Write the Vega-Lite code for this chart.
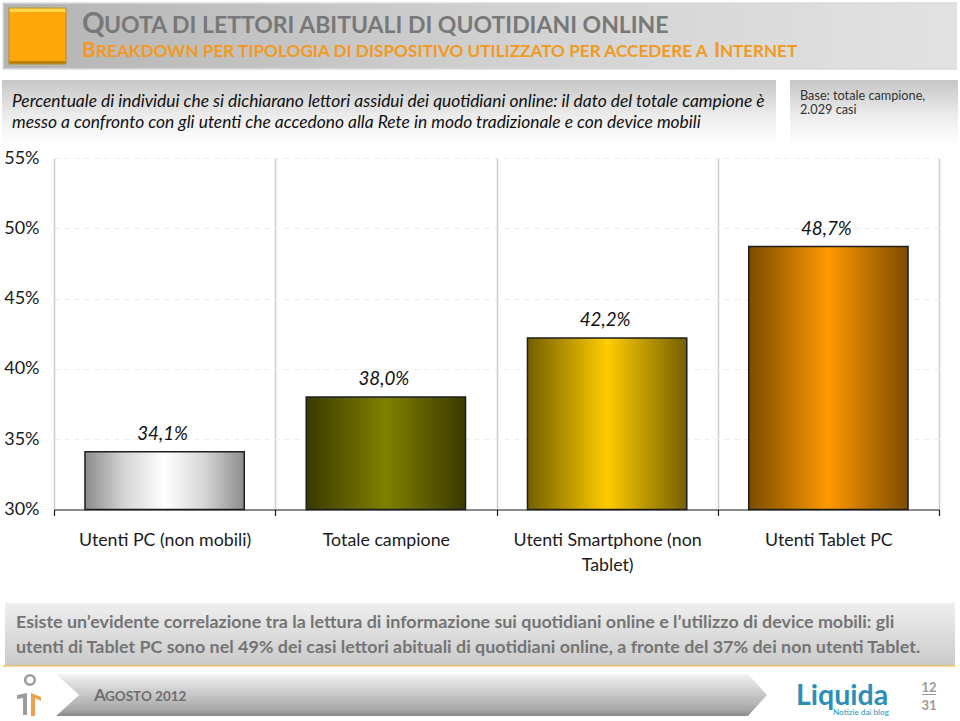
{
"$schema":"https://vega.github.io/schema/vega-lite/v6.json",
"autosize":{"type":"none"},
"width":885,"height":351.5,
"padding":{"left":54,"top":158,"right":21,"bottom":211.5},
"background":"white",
"config":{"view":{"stroke":null},"font":"Lato"},
"data":{"values":[
{"gruppo":"Utenti PC (non mobili)","quota":34.1,"etichetta":"34,1%"},
{"gruppo":"Totale campione","quota":38.0,"etichetta":"38,0%"},
{"gruppo":"Utenti Smartphone (non Tablet)","quota":42.2,"etichetta":"42,2%"},
{"gruppo":"Utenti Tablet PC","quota":48.7,"etichetta":"48,7%"}
]},
"encoding":{
"x":{"field":"gruppo","type":"nominal","title":null,
"scale":{"domain":["Utenti PC (non mobili)","Totale campione","Utenti Smartphone (non Tablet)","Utenti Tablet PC"],"paddingInner":0,"paddingOuter":0},
"axis":{"tickBand":"extent","grid":true,"gridColor":"#cccccc","gridWidth":1.5,"domainColor":"#1a1a1a","domainWidth":1.2,"tickColor":"#1a1a1a","tickWidth":1.2,"tickSize":6,"labelAngle":0,"labelAlign":"center","labelBaseline":"top","labelPadding":16,"labelFontSize":17.8,"labelColor":"#1a1a1a","labelFont":"Lato","labelLimit":220,"labelLineHeight":25,
"labelExpr":"datum.label == 'Utenti Smartphone (non Tablet)' ? ['Utenti Smartphone (non','Tablet)'] : datum.label"}},
"y":{"field":"quota","type":"quantitative","title":null,
"scale":{"domain":[30,55],"nice":false,"zero":false},
"axis":{"values":[30,35,40,45,50,55],"domain":false,"ticks":false,"labelPadding":15,"labelFontSize":18,"labelColor":"#1a1a1a","labelExpr":"datum.value + '%'","grid":true,"gridColor":"#ececec","gridDash":[5,5],"gridWidth":1}}
},
"layer":[
{"data":{"values":[{}]},"mark":{"type":"rect","x":-51,"x2":902,"y":-155,"y2":-89,"stroke":"#dcdcdc","strokeWidth":1.5,"fill":{"gradient":"linear","x1":0,"y1":0,"x2":1,"y2":0,"stops":[{"offset":0,"color":"#b4b4b4"},{"offset":0.55,"color":"#d2d2d2"},{"offset":1,"color":"#e2e2e2"}]}},"encoding":{"x":null,"y":null}},
{"data":{"values":[{}]},"mark":{"type":"rect","x":-45,"x2":12,"y":-150,"y2":-94,"stroke":"#b98a20","strokeWidth":1,"fill":{"gradient":"linear","x1":0,"y1":0,"x2":0,"y2":1,"stops":[{"offset":0,"color":"#ffd84a"},{"offset":0.07,"color":"#ffd84a"},{"offset":0.08,"color":"#ffa608"},{"offset":0.94,"color":"#ffa608"},{"offset":0.95,"color":"#b87f10"},{"offset":1,"color":"#b87f10"}]}},"encoding":{"x":null,"y":null}},
{"data":{"values":[{}]},"mark":{"type":"rect","x":-52,"x2":722,"y":-78,"y2":-13,"fill":{"gradient":"linear","x1":0,"y1":0,"x2":0,"y2":1,"stops":[{"offset":0,"color":"#c6c6c6"},{"offset":0.55,"color":"#ececec"},{"offset":1,"color":"#ffffff"}]}},"encoding":{"x":null,"y":null}},
{"data":{"values":[{}]},"mark":{"type":"rect","x":736,"x2":904,"y":-78,"y2":-13,"fill":{"gradient":"linear","x1":0,"y1":0,"x2":0,"y2":1,"stops":[{"offset":0,"color":"#c6c6c6"},{"offset":0.55,"color":"#ececec"},{"offset":1,"color":"#ffffff"}]}},"encoding":{"x":null,"y":null}},
{"data":{"values":[{}]},"mark":{"type":"rect","x":-49,"x2":901,"y":445,"y2":507,"fill":{"gradient":"linear","x1":0,"y1":0,"x2":0,"y2":1,"stops":[{"offset":0,"color":"#efefef"},{"offset":1,"color":"#cacaca"}]}},"encoding":{"x":null,"y":null}},
{"data":{"values":[{}]},"mark":{"type":"rect","x":-51,"x2":901,"y":507,"y2":508.5,"fill":"#f0bb6a"},"encoding":{"x":null,"y":null}},
{"data":{"values":[{}]},"mark":{"type":"point","x":357.5,"y":537,"size":505400,"filled":true,"opacity":1,"shape":"M-1,-0.059L0.9465,-0.059L1,0L0.9465,0.059L-1,0.059L-0.935,0Z","fill":{"gradient":"linear","x1":0,"y1":0,"x2":0,"y2":1,"stops":[{"offset":0,"color":"#f4f4f4"},{"offset":0.15,"color":"#e4e4e4"},{"offset":0.85,"color":"#a8a8a8"},{"offset":1,"color":"#8a8a8a"}]}},"encoding":{"x":null,"y":null}},
{"data":{"values":[{}]},"mark":{"type":"point","x":-24,"y":522,"size":95,"shape":"circle","filled":false,"opacity":1,"stroke":"#9c9c9c","strokeWidth":2.5},"encoding":{"x":null,"y":null}},
{"data":{"values":[{}]},"mark":{"type":"point","x":-25,"y":546,"size":676,"filled":true,"opacity":1,"fill":"#9c9c9c","shape":"M-.92,-.69L-.15,-.85L-.15,.85L-.46,.85L-.46,-.46L-.92,-.38Z"},"encoding":{"x":null,"y":null}},
{"data":{"values":[{}]},"mark":{"type":"point","x":-25,"y":546,"size":676,"filled":true,"opacity":1,"fill":"#f0a04a","shape":"M.15,-.85L.92,-.54L.92,-.23L.46,-.46L.46,.92L.15,.92Z"},"encoding":{"x":null,"y":null}},
{"data":{"values":[{"t":"Q"}]},"mark":{"type":"text","x":28,"y":-125,"align":"left","baseline":"alphabetic","fontSize":28,"fontWeight":"bold","fill":"#787878"},"encoding":{"x":null,"y":null,"text":{"field":"t"}}},
{"data":{"values":[{"t":"UOTA DI LETTORI ABITUALI DI QUOTIDIANI ONLINE"}]},"mark":{"type":"text","x":50,"y":-125,"align":"left","baseline":"alphabetic","fontSize":23,"fontWeight":"bold","fill":"#787878"},"encoding":{"x":null,"y":null,"text":{"field":"t"}}},
{"data":{"values":[{"t":"B"}]},"mark":{"type":"text","x":28,"y":-101,"align":"left","baseline":"alphabetic","fontSize":21,"fontWeight":"bold","fill":"#f39a1e"},"encoding":{"x":null,"y":null,"text":{"field":"t"}}},
{"data":{"values":[{"t":"REAKDOWN PER TIPOLOGIA DI DISPOSITIVO UTILIZZATO PER ACCEDERE A"}]},"mark":{"type":"text","x":42,"y":-101,"align":"left","baseline":"alphabetic","fontSize":17.2,"fontWeight":"bold","fill":"#f39a1e"},"encoding":{"x":null,"y":null,"text":{"field":"t"}}},
{"data":{"values":[{"t":"I"}]},"mark":{"type":"text","x":660,"y":-101,"align":"left","baseline":"alphabetic","fontSize":21,"fontWeight":"bold","fill":"#f39a1e"},"encoding":{"x":null,"y":null,"text":{"field":"t"}}},
{"data":{"values":[{"t":"NTERNET"}]},"mark":{"type":"text","x":666,"y":-101,"align":"left","baseline":"alphabetic","fontSize":17,"fontWeight":"bold","fill":"#f39a1e"},"encoding":{"x":null,"y":null,"text":{"field":"t"}}},
{"data":{"values":[{"t":"Percentuale di individui che si dichiarano lettori assidui dei quotidiani online: il dato del totale campione è\nmesso a confronto con gli utenti che accedono alla Rete in modo tradizionale e con device mobili"}]},"mark":{"type":"text","x":-42,"y":-51,"align":"left","baseline":"alphabetic","fontSize":17.4,"fontStyle":"italic","lineBreak":"\n","lineHeight":21,"fill":"#111111"},"encoding":{"x":null,"y":null,"text":{"field":"t"}}},
{"data":{"values":[{"t":"Base: totale campione,\n2.029 casi"}]},"mark":{"type":"text","x":746,"y":-58,"align":"left","baseline":"alphabetic","fontSize":12.7,"lineBreak":"\n","lineHeight":14,"fill":"#333333"},"encoding":{"x":null,"y":null,"text":{"field":"t"}}},
{"data":{"values":[{"t":"Esiste un’evidente correlazione tra la lettura di informazione sui quotidiani online e l’utilizzo di device mobili: gli\nutenti di Tablet PC sono nel 49% dei casi lettori abituali di quotidiani online, a fronte del 37% dei non utenti Tablet."}]},"mark":{"type":"text","x":-38,"y":470,"align":"left","baseline":"alphabetic","fontSize":17.9,"fontWeight":"bold","lineBreak":"\n","lineHeight":25,"fill":"#747474"},"encoding":{"x":null,"y":null,"text":{"field":"t"}}},
{"data":{"values":[{"t":"A"}]},"mark":{"type":"text","x":40,"y":543,"align":"left","baseline":"alphabetic","fontSize":17,"fontWeight":"bold","fill":"#6e6e6e"},"encoding":{"x":null,"y":null,"text":{"field":"t"}}},
{"data":{"values":[{"t":"GOSTO 2012"}]},"mark":{"type":"text","x":51,"y":543,"align":"left","baseline":"alphabetic","fontSize":13.5,"fontWeight":"bold","fill":"#6e6e6e"},"encoding":{"x":null,"y":null,"text":{"field":"t"}}},
{"data":{"values":[{"t":"Liquida"}]},"mark":{"type":"text","x":742,"y":547,"align":"left","baseline":"alphabetic","fontSize":28.5,"fontWeight":"bold","fill":"#2c8fb8"},"encoding":{"x":null,"y":null,"text":{"field":"t"}}},
{"data":{"values":[{"t":"Notizie dai blog"}]},"mark":{"type":"text","x":779,"y":557,"align":"left","baseline":"alphabetic","fontSize":8.2,"fill":"#2c8fb8"},"encoding":{"x":null,"y":null,"text":{"field":"t"}}},
{"data":{"values":[{"t":"12"}]},"mark":{"type":"text","x":875,"y":534,"align":"center","baseline":"alphabetic","fontSize":13,"fontWeight":"bold","fill":"#9a9a9a"},"encoding":{"x":null,"y":null,"text":{"field":"t"}}},
{"data":{"values":[{"t":"31"}]},"mark":{"type":"text","x":875,"y":552,"align":"center","baseline":"alphabetic","fontSize":13,"fontWeight":"bold","fill":"#9a9a9a"},"encoding":{"x":null,"y":null,"text":{"field":"t"}}},
{"data":{"values":[{}]},"mark":{"type":"rect","x":868,"x2":882,"y":536,"y2":537,"fill":"#9a9a9a"},"encoding":{"x":null,"y":null}},
{"transform":[{"filter":"datum.gruppo == 'Utenti PC (non mobili)'"}],"mark":{"type":"bar","width":{"band":0.72},"stroke":"#1e1e1e","strokeWidth":1.5,"fill":{"gradient":"linear","x1":0,"y1":0,"x2":1,"y2":0,"stops":[{"offset":0,"color":"#8c8c8c"},{"offset":0.25,"color":"#d6d6d6"},{"offset":0.5,"color":"#ffffff"},{"offset":0.75,"color":"#d6d6d6"},{"offset":1,"color":"#8c8c8c"}]}},"encoding":{"y2":{"datum":30}}},
{"transform":[{"filter":"datum.gruppo == 'Totale campione'"}],"mark":{"type":"bar","width":{"band":0.72},"stroke":"#1e1e1e","strokeWidth":1.5,"fill":{"gradient":"linear","x1":0,"y1":0,"x2":1,"y2":0,"stops":[{"offset":0,"color":"#3a3a00"},{"offset":0.5,"color":"#808000"},{"offset":1,"color":"#3a3a00"}]}},"encoding":{"y2":{"datum":30}}},
{"transform":[{"filter":"datum.gruppo == 'Utenti Smartphone (non Tablet)'"}],"mark":{"type":"bar","width":{"band":0.72},"stroke":"#1e1e1e","strokeWidth":1.5,"fill":{"gradient":"linear","x1":0,"y1":0,"x2":1,"y2":0,"stops":[{"offset":0,"color":"#746000"},{"offset":0.5,"color":"#ffcc00"},{"offset":1,"color":"#746000"}]}},"encoding":{"y2":{"datum":30}}},
{"transform":[{"filter":"datum.gruppo == 'Utenti Tablet PC'"}],"mark":{"type":"bar","width":{"band":0.72},"stroke":"#1e1e1e","strokeWidth":1.5,"fill":{"gradient":"linear","x1":0,"y1":0,"x2":1,"y2":0,"stops":[{"offset":0,"color":"#7c4b00"},{"offset":0.5,"color":"#ff9900"},{"offset":1,"color":"#7c4b00"}]}},"encoding":{"y2":{"datum":30}}},
{
"mark":{"type":"text","fontSize":18.8,"fontStyle":"italic","baseline":"alphabetic","dy":-12,"dx":-2,"fill":"#111111"},
"encoding":{"text":{"field":"etichetta"}}
}
]
}
